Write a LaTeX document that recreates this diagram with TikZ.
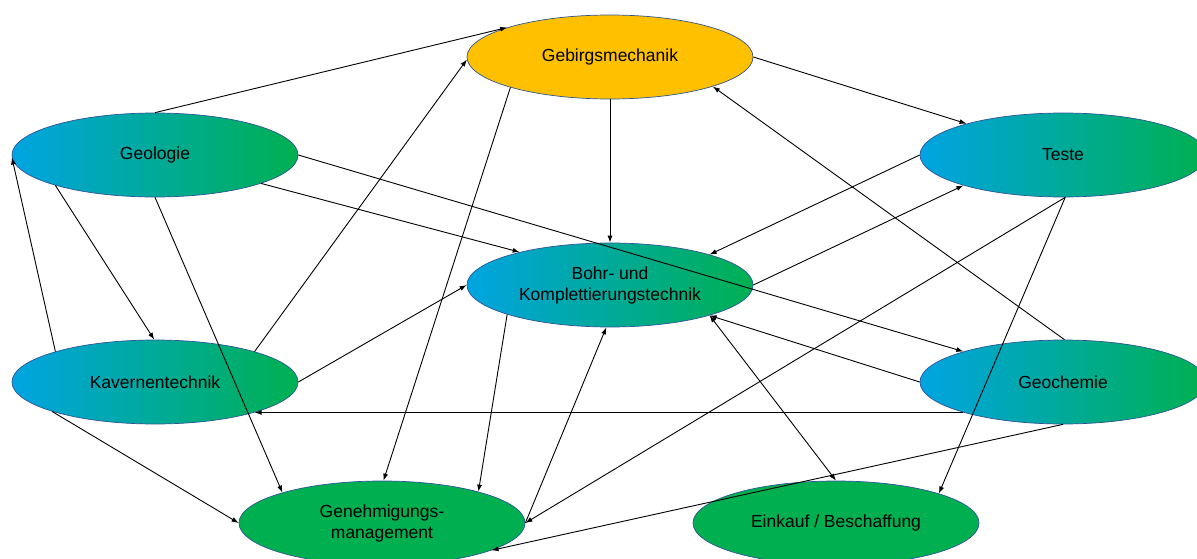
\documentclass[tikz,border=0pt]{standalone}
\usepackage{fontspec}
\setmainfont{Liberation Sans}
\usepackage{tikz}
\usetikzlibrary{shapes.geometric,arrows.meta}
\definecolor{GradBlue}{RGB}{0,164,226}
\definecolor{GradGreen}{RGB}{0,176,80}
\definecolor{PlainGreen}{RGB}{0,176,80}
\definecolor{GoldFill}{RGB}{255,192,0}
\definecolor{RimBlue}{RGB}{47,85,151}

\begin{document}
\begin{tikzpicture}[x=1pt,y=-1pt,
  fld/.style={ellipse,draw=RimBlue,line width=0.7pt,minimum width=286pt,minimum height=84pt,inner sep=0pt,align=center,font=\fontsize{17.5}{21}\selectfont},
  grd/.style={fld,left color=GradBlue,right color=GradGreen},
  arr/.style={-{Latex[length=7pt,width=5pt]},line width=0.9pt},
  darr/.style={{Latex[length=7pt,width=5pt]}-{Latex[length=7pt,width=5pt]},line width=0.9pt}]
\useasboundingbox (0,0) rectangle (1197,559);
\node[fld,fill=GoldFill](geb) at(610,57) {Gebirgsmechanik};
\node[grd](geo) at(155,155) {Geologie};
\node[grd](teste) at(1063,155) {Teste};
\node[grd](bohr) at(610,285) {Bohr- und\\Komplettierungstechnik};
\node[grd](kav) at(155,382) {Kavernentechnik};
\node[grd](geoch) at(1063,382) {Geochemie};
\node[fld,fill=PlainGreen](gen) at(382,523) {Genehmigungs-\\management};
\node[fld,fill=PlainGreen](ein) at(836,523) {Einkauf / Beschaffung};
% connectors, drawn over the ellipses
\foreach \a/\b in %
{geo.north/geb.164,geb.east/teste.162,geb.south/bohr.north,geb.197/gen.88,
 kav.17/geb.181,geoch.88/geb.-16,kav.163/geo.181,geo.197/kav.91,
 geo.south/gen.163,geo.-15/bohr.160,geo.east/geoch.163,teste.west/bohr.17,
 bohr.east/teste.197,teste.273/ein.16,teste.273/gen.east,geoch.west/bohr.-17,
 geoch.197/kav.-17,geoch.south/gen.-14,kav.east/bohr.west,kav.196/gen.west,
 bohr.196/gen.18,gen.east/bohr.265} {
   \draw[arr] (\a) -- (\b);
}
\draw[darr] (bohr.-17) -- (ein.north);
\end{tikzpicture}
\end{document}
